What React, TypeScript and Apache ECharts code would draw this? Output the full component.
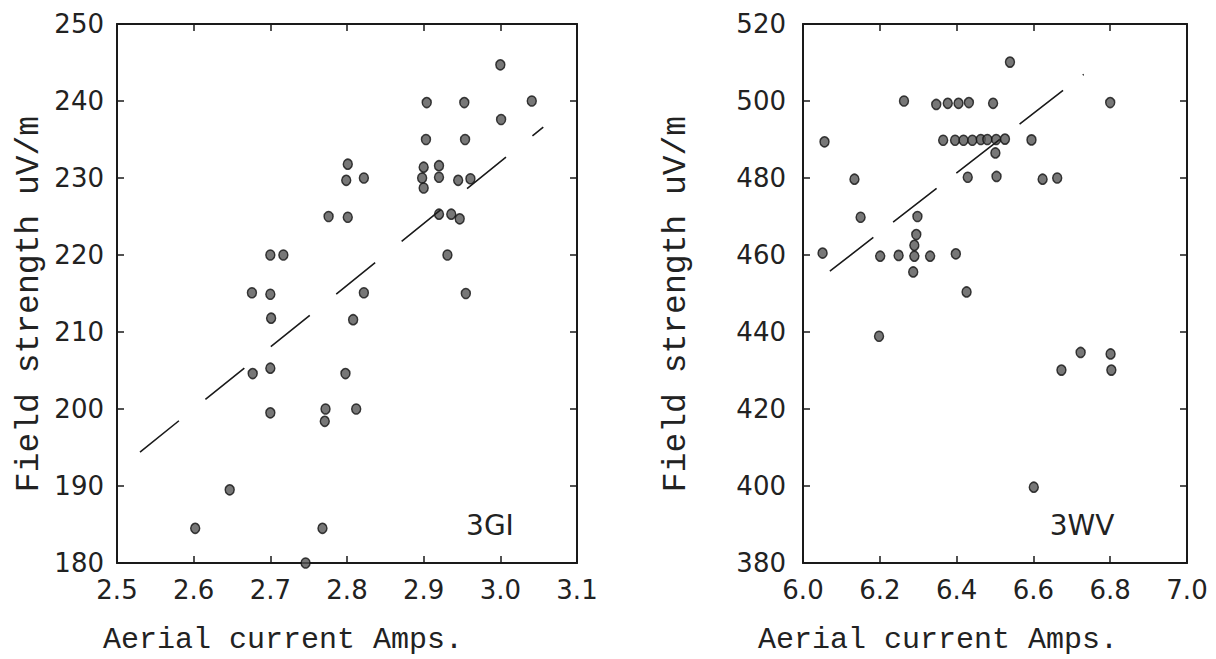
import React, { useEffect, useRef } from "react";
import * as echarts from "echarts";

// Left panel (3GI)
const leftCurrent = [3.0, 2.904, 2.953, 3.041, 3.001, 2.903, 2.954, 2.801, 2.799, 2.822, 2.9, 2.898, 2.9, 2.92, 2.92, 2.945, 2.961, 2.776, 2.801, 2.92, 2.936, 2.947, 2.7, 2.717, 2.931, 2.676, 2.7, 2.822, 2.955, 2.701, 2.808, 2.677, 2.7, 2.798, 2.7, 2.772, 2.771, 2.812, 2.647, 2.602, 2.768, 2.746];
const leftField = [244.7, 239.8, 239.8, 240, 237.6, 235, 235, 231.8, 229.7, 230, 231.4, 230, 228.7, 231.6, 230.1, 229.7, 229.9, 225, 224.9, 225.3, 225.3, 224.7, 220, 220, 220, 215.1, 214.9, 215.1, 215, 211.8, 211.6, 204.6, 205.3, 204.6, 199.5, 200, 198.4, 200, 189.5, 184.5, 184.5, 180];
const leftFitX = [2.53, 3.056];
const leftFitY = [194.4, 236.6];

// Right panel (3WV)
const rightCurrent = [6.539, 6.263, 6.347, 6.377, 6.405, 6.432, 6.495, 6.8, 6.056, 6.365, 6.396, 6.418, 6.441, 6.463, 6.48, 6.503, 6.526, 6.595, 6.501, 6.134, 6.429, 6.504, 6.624, 6.662, 6.15, 6.298, 6.295, 6.29, 6.051, 6.201, 6.249, 6.29, 6.331, 6.398, 6.287, 6.426, 6.198, 6.723, 6.801, 6.673, 6.803, 6.601];
const rightField = [510.1, 500, 499.1, 499.4, 499.4, 499.6, 499.4, 499.6, 489.4, 489.8, 489.8, 489.8, 489.8, 490, 490, 490, 490.1, 489.9, 486.5, 479.7, 480.2, 480.4, 479.7, 480, 469.8, 470, 465.3, 462.5, 460.5, 459.7, 459.9, 459.7, 459.7, 460.3, 455.6, 450.4, 438.9, 434.7, 434.3, 430.1, 430.1, 399.7];
const rightFitX = [6.07, 6.731];
const rightFitY = [455.8, 506.9];

const yTitle = "Field strength uV/m";
const xTitle = "Aerial current Amps.";
const panelLabels = ["3GI", "3WV"];

const zip = (a: number[], b: number[]) => a.map((v, i) => [v, b[i]]);

const INK = "#1a1a1a";
const tickFont = { fontSize: 26, fontFamily: "DejaVu Sans", color: "#222" };

function axisPair(gridIndex: number, min: number, max: number, interval: number, labelMargin: number, dir: "x" | "y") {
  const common = {
    gridIndex,
    type: "value",
    min,
    max,
    interval,
    splitLine: { show: false },
    axisLine: { show: true, onZero: false, lineStyle: { color: INK, width: 2 } },
    axisTick: { show: true, inside: true, length: 7, lineStyle: { color: INK, width: 1.5 } },
  };
  return [
    {
      ...common,
      position: dir === "x" ? "bottom" : "left",
      axisLabel: {
        ...tickFont,
        margin: labelMargin,
        showMinLabel: true,
        showMaxLabel: true,
        formatter: (v: number) => (dir === "x" ? v.toFixed(1) : String(Math.round(v))),
      },
    },
    {
      ...common,
      position: dir === "x" ? "top" : "right",
      axisLabel: { show: false },
    },
  ];
}

export default function App() {
  const ref = useRef<HTMLDivElement>(null);
  useEffect(() => {
    if (!ref.current) return;
    const chart = echarts.init(ref.current, null, { renderer: "svg" });
    const dotStyle = { color: "#555555", borderColor: "#111", borderWidth: 1.5 };
    const option = {
      animation: false,
      backgroundColor: "#ffffff",
      grid: [
        { left: 117, top: 24, width: 460, height: 539 },
        { left: 803, top: 24, width: 384, height: 539 },
      ],
      xAxis: [
        ...axisPair(0, 2.5, 3.1, 0.1, 14, "x"),
        ...axisPair(1, 6.0, 7.0, 0.2, 14, "x"),
      ],
      yAxis: [
        ...axisPair(0, 180, 250, 10, 13, "y"),
        ...axisPair(1, 380, 520, 20, 17, "y"),
      ],
      series: [
        {
          type: "scatter",
          xAxisIndex: 0,
          yAxisIndex: 0,
          data: zip(leftCurrent, leftField),
          symbol: "circle",
          symbolSize: [9, 10],
          itemStyle: dotStyle,
        },
        {
          type: "line",
          xAxisIndex: 0,
          yAxisIndex: 0,
          data: zip(leftFitX, leftFitY),
          showSymbol: false,
          symbol: "none",
          lineStyle: { color: INK, width: 1.6, type: [50, 34] },
        },
        {
          type: "scatter",
          xAxisIndex: 2,
          yAxisIndex: 2,
          data: zip(rightCurrent, rightField),
          symbol: "circle",
          symbolSize: [9, 10],
          itemStyle: dotStyle,
        },
        {
          type: "line",
          xAxisIndex: 2,
          yAxisIndex: 2,
          data: zip(rightFitX, rightFitY),
          showSymbol: false,
          symbol: "none",
          lineStyle: { color: INK, width: 1.6, type: [55, 25] },
        },
      ],
      graphic: [
        {
          type: "text",
          x: 29,
          y: 304,
          rotation: Math.PI / 2,
          style: { text: yTitle, font: "33px 'Liberation Mono'", fill: "#222", align: "center", verticalAlign: "middle" },
        },
        {
          type: "text",
          x: 676,
          y: 304,
          rotation: Math.PI / 2,
          style: { text: yTitle, font: "33px 'Liberation Mono'", fill: "#222", align: "center", verticalAlign: "middle" },
        },
        {
          type: "text",
          x: 283,
          y: 640,
          style: { text: xTitle, font: "30px 'Liberation Mono'", fill: "#222", align: "center", verticalAlign: "middle" },
        },
        {
          type: "text",
          x: 938,
          y: 640,
          style: { text: xTitle, font: "30px 'Liberation Mono'", fill: "#222", align: "center", verticalAlign: "middle" },
        },
        {
          type: "text",
          x: 490,
          y: 525,
          style: { text: panelLabels[0], font: "28px 'DejaVu Sans'", fill: "#222", align: "center", verticalAlign: "middle" },
        },
        {
          type: "text",
          x: 1082,
          y: 525,
          style: { text: panelLabels[1], font: "28px 'DejaVu Sans'", fill: "#222", align: "center", verticalAlign: "middle" },
        },
      ],
    };
    chart.setOption(option as any);
    return () => chart.dispose();
  }, []);
  return (
    <div
      ref={ref}
      style={{ position: "fixed", left: 0, top: 0, width: 1216, height: 659, background: "#fff" }}
    />
  );
}
